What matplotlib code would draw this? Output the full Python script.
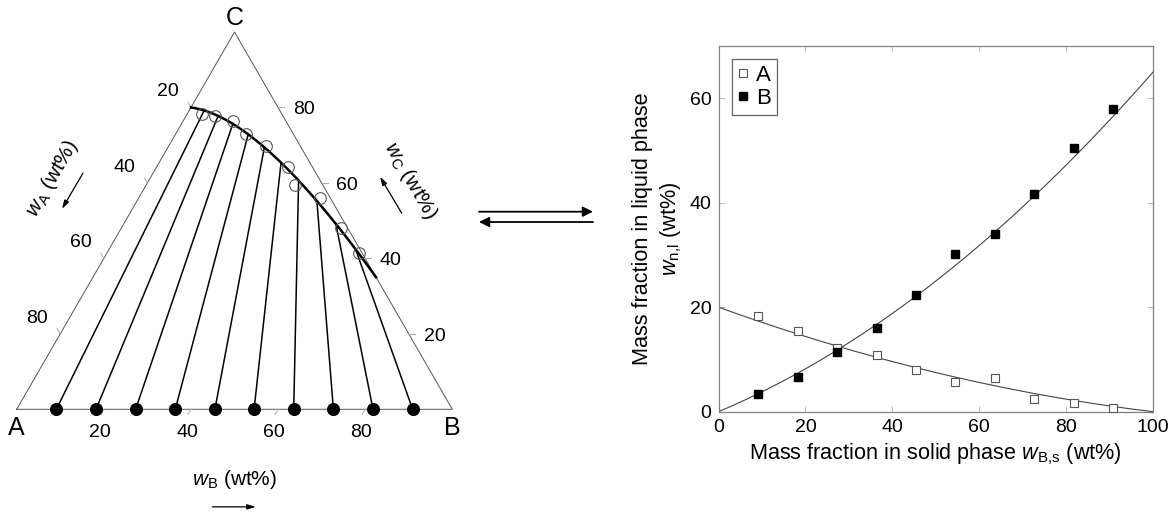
import numpy as np
import matplotlib
matplotlib.use('Agg')
from matplotlib import pyplot as plt
from matplotlib import patches as patches

plt.rcParams['font.family'] = ['Liberation Sans', 'DejaVu Sans']
plt.rcParams['mathtext.fontset'] = 'custom'
plt.rcParams['mathtext.rm'] = 'Liberation Sans'
plt.rcParams['mathtext.it'] = 'Liberation Sans:italic'

# solid phase composition w_B,s (wt%), one entry per tie line
w_solid = [9.1, 18.2, 27.3, 36.4, 45.5, 54.5, 63.6, 72.7, 81.8, 90.9]
# liquid phase compositions (wt%)
wA_liq = [18.4, 15.5, 12.2, 10.9, 8.0, 5.6, 6.5, 2.4, 1.6, 0.8]
wB_liq = [3.3, 6.7, 11.4, 16.0, 22.3, 30.1, 34.1, 41.6, 50.4, 57.9]
# fitted curves, quadratic coefficients (highest power first)
fitA = [0.001, -0.3, 20.0]
fitB = [0.003, 0.35, 0.0]

tern_ticks = [20, 40, 60, 80]
x_ticks = [0, 20, 40, 60, 80, 100]
y_ticks = [0, 20, 40, 60]

H = np.sqrt(3) / 2


def tern(wB, wC):
    ''' ternary composition -> cartesian position (A at origin, B at (100, 0)) '''
    wB = np.asarray(wB, dtype=float)
    wC = np.asarray(wC, dtype=float)
    return wB + wC / 2, wC * H


fig = plt.figure(figsize=(11.74, 5.12), dpi=100)

# ---------- ternary diagram ----------
ax1 = fig.add_axes([0, 0, 480 / 1174, 1])
ax1.set_xlim(-3.834, 106.36)
ax1.set_ylim(-23.58, 93.96)
ax1.axis('off')

edge = '#555555'
tx, ty = tern([0, 100, 0, 0], [0, 0, 100, 0])
ax1.plot(tx, ty, color=edge, lw=0.7)

tick_len = 1.4
tfs = 14
for t in tern_ticks:
    # bottom axis (w_B)
    x0, y0 = tern(t, 0)
    ax1.plot([x0, x0 - 0.5 * tick_len], [y0, y0 - H * tick_len], color='#aaaaaa', lw=0.7)
    ax1.text(x0 - 0.9, y0 - 5.3, str(t), ha='center', va='center', fontsize=tfs)
    # left axis (w_A), edge A-C, w_B = 0
    x0, y0 = tern(0, 100 - t)
    ax1.plot([x0, x0 - 0.5 * tick_len], [y0, y0 + H * tick_len], color='#aaaaaa', lw=0.7)
    ax1.text(x0 - 5.3, y0 + 3.6, str(t), ha='center', va='center', fontsize=tfs)
    # right axis (w_C), edge B-C, w_A = 0
    x0, y0 = tern(100 - t, t)
    ax1.plot([x0, x0 + tick_len], [y0, y0], color='#aaaaaa', lw=0.7)
    ax1.text(x0 + 3.4, y0 - 0.55, str(t), ha='left', va='center', fontsize=tfs)

ax1.text(50, 89.9, 'C', ha='center', va='center', fontsize=18)
ax1.text(0, -4.4, 'A', ha='center', va='center', fontsize=18)
ax1.text(100, -4.4, 'B', ha='center', va='center', fontsize=18)

arrow = dict(arrowstyle='-|>,head_length=0.5,head_width=0.15', color='k', lw=0.9,
             shrinkA=0, shrinkB=0)
ax1.text(50.1, -16.2, r'$w_{\mathrm{B}}$ (wt%)', ha='center', va='center', fontsize=15)
ax1.annotate('', xy=(54.9, -22.4), xytext=(44.9, -22.4), arrowprops=arrow)
ax1.text(8.1, 53.1, r'$w_{\mathrm{A}}$ (wt%)', ha='center', va='center', fontsize=15, rotation=60)
ax1.annotate('', xy=(10.4, 46.0), xytext=(15.2, 54.2), arrowprops=arrow)
ax1.text(90.3, 52.6, r'$w_{\mathrm{C}}$ (wt%)', ha='center', va='center', fontsize=15, rotation=-60)
ax1.annotate('', xy=(83.4, 53.4), xytext=(88.4, 45.0), arrowprops=arrow)

# binodal curve from the fits
xs = np.linspace(0, 100, 200)
fA = np.polyval(fitA, xs)
fB = np.polyval(fitB, xs)
cx, cy = tern(fB, 100 - fA - fB)
ax1.plot(cx, cy, color='k', lw=1.8, zorder=3)

# tie lines: solid composition on A-B edge -> liquid on the curve
sA = np.polyval(fitA, w_solid)
sB = np.polyval(fitB, w_solid)
lx, ly = tern(sB, 100 - sA - sB)
bx, by = tern(w_solid, np.zeros(len(w_solid)))
for i in range(len(w_solid)):
    ax1.plot([bx[i], lx[i]], [by[i], ly[i]], color='k', lw=1.1, zorder=2)
ax1.plot(bx, by, 'o', color='k', ms=8.4, zorder=4)

# measured liquid compositions
px, py = tern(wB_liq, 100 - np.array(wA_liq) - np.array(wB_liq))
ax1.plot(px, py, 'o', mfc='none', mec='#555555', mew=0.8, ms=8.4, zorder=4)

# ---------- equilibrium arrows ----------
for y0, x_from, x_to in [(211.7, 479, 593), (222, 593, 479)]:
    fig.patches.append(patches.FancyArrowPatch(
        (x_from / 1174, 1 - y0 / 512), (x_to / 1174, 1 - y0 / 512), transform=fig.transFigure,
        arrowstyle='-|>,head_length=6,head_width=3', color='k', lw=1.3, shrinkA=0, shrinkB=0))

# ---------- right plot ----------
ax2 = fig.add_axes([718.5 / 1174, (512 - 411.7) / 512, 434.5 / 1174, 365.7 / 512])
ax2.plot(xs, fA, color='#444444', lw=0.8)
ax2.plot(xs, fB, color='#444444', lw=0.8)
ax2.plot(w_solid, wA_liq, 's', mfc='white', mec='#555555', mew=0.8, ms=6.2, label='A', zorder=3)
ax2.plot(w_solid, wB_liq, 's', color='k', ms=6.2, label='B', zorder=3)
ax2.set_xlim(0, 100)
ax2.set_ylim(0, 70)
ax2.set_xticks(x_ticks)
ax2.set_yticks(y_ticks)
ax2.tick_params(direction='in', length=4, width=0.7, color='#bbbbbb', labelsize=14,
                top=True, right=True, pad=5)
for s in ax2.spines.values():
    s.set_color('#808080')
    s.set_linewidth(0.9)
ax2.set_xlabel(r'Mass fraction in solid phase $w_{\mathrm{B{,}s}}$ (wt%)', fontsize=15.6, labelpad=4)
ax2.set_ylabel('Mass fraction in liquid phase\n' + r'$w_{\mathrm{n{,}l}}$ (wt%)', fontsize=15.6,
               linespacing=1.3, labelpad=4)
leg = ax2.legend(loc='upper left', fontsize=16, fancybox=False, edgecolor='#666666',
                 handlelength=0.5, handletextpad=0.35, borderpad=0.25, labelspacing=0.1,
                 borderaxespad=0.6, framealpha=1)
leg.get_frame().set_linewidth(0.9)

fig.savefig('out.png', dpi=100)
